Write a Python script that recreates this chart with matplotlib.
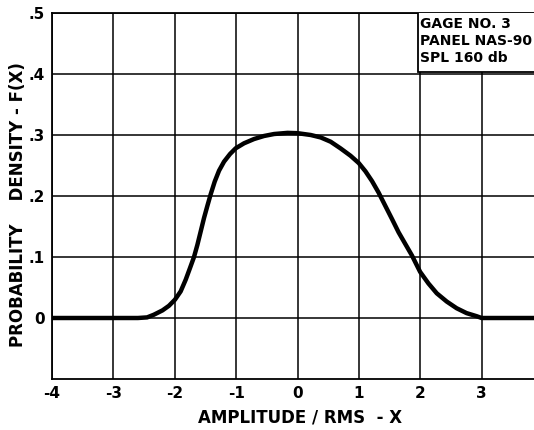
import matplotlib
matplotlib.use("Agg")
import matplotlib.pyplot as plt
from matplotlib.patches import Rectangle

# Data
amp = [-4.0, -3.0, -2.6, -2.45, -2.34, -2.20, -2.095, -1.997, -1.904, -1.822, -1.752,
       -1.687, -1.631, -1.577, -1.523, -1.468, -1.414, -1.349, -1.278, -1.197, -1.099,
       -1.007, -0.871, -0.708, -0.545, -0.382, -0.163, 0.0, 0.216, 0.378, 0.54, 0.702,
       0.864, 0.998, 1.107, 1.215, 1.323, 1.431, 1.54, 1.647, 1.755, 1.864, 1.998,
       2.133, 2.269, 2.431, 2.593, 2.755, 2.917, 3.0, 3.5, 4.0]
dens = [0.0, 0.0, 0.0, 0.001, 0.0054, 0.0125, 0.020, 0.030, 0.0436, 0.0627, 0.0818,
        0.0998, 0.120, 0.142, 0.164, 0.184, 0.203, 0.2236, 0.2416, 0.2563, 0.2689,
        0.2782, 0.2864, 0.2934, 0.2984, 0.3016, 0.3035, 0.303, 0.300, 0.296, 0.289, 0.278,
        0.266, 0.254, 0.2405, 0.2243, 0.2053, 0.1838, 0.1622, 0.1405, 0.1216, 0.1026, 0.0756,
        0.0567, 0.0405, 0.027, 0.016, 0.008, 0.003, 0.0, 0.0, 0.0]

xticks = [-4, -3, -2, -1, 0, 1, 2, 3]
xtick_labels = ["-4", "-3", "-2", "-1", "0", "1", "2", "3"]
yticks = [0.0, 0.1, 0.2, 0.3, 0.4, 0.5]
ytick_labels = ["0", ".1", ".2", ".3", ".4", ".5"]
box_lines = ["GAGE NO. 3", "PANEL NAS-90", "SPL 160 db"]
xlabel = "AMPLITUDE / RMS  - X"
ylabel = "PROBABILITY    DENSITY - F(X)"

font = dict(family="DejaVu Sans", weight="bold")

fig = plt.figure(figsize=(5.34, 4.30), dpi=100)
W, H = 534, 430
left_px, right_px, top_px, bot_px = 52, 543, 13, 379
ax = fig.add_axes([left_px / W, 1 - bot_px / H, (right_px - left_px) / W, (bot_px - top_px) / H])
ax.set_xlim(-4, 4)
ax.set_ylim(-0.1, 0.5)

for s in ax.spines.values():
    s.set_linewidth(1.3)
    s.set_color("black")

ax.set_xticks(xticks)
ax.set_xticklabels(xtick_labels, fontsize=11, **font)
ax.set_yticks(yticks)
ax.set_yticklabels(ytick_labels, fontsize=11, **font)
ax.tick_params(axis="both", length=0, colors="black")
ax.tick_params(axis="x", pad=5)
ax.tick_params(axis="y", pad=5)
ax.grid(True, color="black", linewidth=1.1)
ax.set_axisbelow(True)

ax.plot(amp, dens, color="black", linewidth=3.2, solid_capstyle="round",
        solid_joinstyle="round", zorder=3)

# Box with annotation in top-right
ax.add_patch(Rectangle((1.96, 0.403), 3.0, 0.2, facecolor="white", edgecolor="black",
                       linewidth=1.3, zorder=4, clip_on=True))
for i, t in enumerate(box_lines):
    ax.text(1.99, 0.494 - i * 0.028, t, fontsize=10, ha="left", va="top", zorder=5, **font)

fig.text(300 / W, 1 - 417 / H, xlabel, fontsize=12, ha="center", va="center", **font)
fig.text(18 / W, 1 - 205 / H, ylabel, fontsize=12, ha="center", va="center", rotation=90, **font)

fig.savefig("out.png", dpi=100)
